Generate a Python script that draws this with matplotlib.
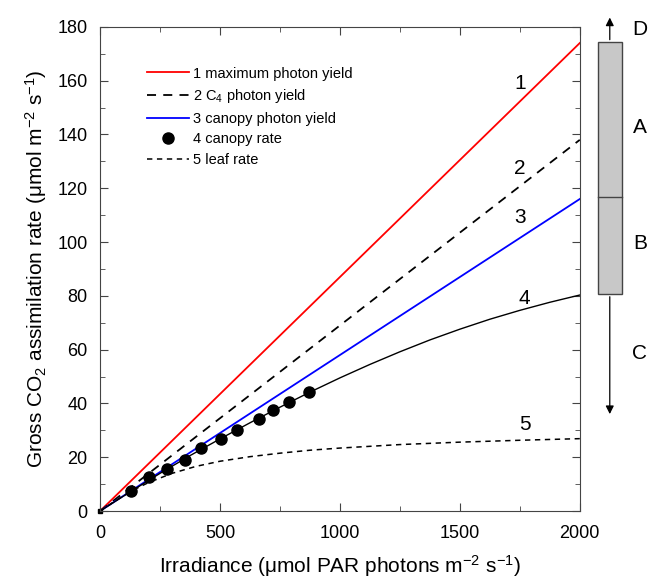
import matplotlib
matplotlib.use("Agg")
import matplotlib.pyplot as plt
from matplotlib.ticker import MultipleLocator
from matplotlib.patches import Rectangle
import matplotlib.transforms as mtransforms

plt.rcParams['font.family'] = ['Liberation Sans', 'DejaVu Sans']
plt.rcParams['mathtext.fontset'] = 'custom'
plt.rcParams['mathtext.rm'] = 'Liberation Sans'
plt.rcParams['mathtext.it'] = 'Liberation Sans:italic'

# straight lines (irradiance end points)
x_line = [0, 2000]
y_max_yield = [0, 174]
y_c4_yield = [0, 138]
y_canopy_yield = [0, 116]

# canopy rate curve
x_curve = [0, 125, 250, 375, 500, 625, 750, 875, 1000, 1125, 1250, 1375, 1500,
           1625, 1750, 1875, 2000]
y_canopy_rate = [0, 7.1, 14.0, 20.6, 26.8, 32.8, 38.6, 44.2, 49.5, 54.5, 59.2, 63.6,
                 67.6, 71.3, 74.6, 77.6, 80.3]

# leaf rate curve
x_leaf = [0, 50, 100, 150, 200, 300, 400, 500, 625, 750, 875, 1000, 1250, 1500, 1750, 2000]
y_leaf = [0, 3.0, 5.8, 8.3, 10.5, 14.0, 16.6, 18.5, 20.2, 21.5, 22.6, 23.4, 24.7, 25.6,
          26.3, 26.9]

# measured canopy points
x_pts = [127, 203, 277, 352, 419, 506, 572, 662, 720, 789, 873]
y_pts = [7.5, 12.5, 15.7, 18.8, 23.3, 26.8, 30.1, 34.3, 37.5, 40.6, 44.1]

# side box (values at 2000)
box_low, box_med, box_high = 80.7, 116.8, 174.2
whisk_low, whisk_high = 35, 184.5
box_labels = ["D", "A", "B", "C"]
box_label_y = [179, 142.4, 99.6, 58.7]

curve_labels = ["1", "2", "3", "4", "5"]
curve_label_x = [1750, 1750, 1750, 1770, 1770]
curve_label_y = [159, 127.5, 109, 79, 32]

fig = plt.figure(figsize=(6.5, 5.84), dpi=100)
ax = fig.add_axes([0.154, 0.125, 0.738, 0.829])

ax.plot(x_line, y_max_yield, color='red', lw=1.3, label='1 maximum photon yield')
ax.plot(x_line, y_c4_yield, color='black', lw=1.3, ls=(0, (5, 4)), label='2 C$_4$ photon yield')
ax.plot(x_line, y_canopy_yield, color='blue', lw=1.3, label='3 canopy photon yield')
ax.plot(x_curve, y_canopy_rate, color='black', lw=1.0)
ax.plot(x_pts, y_pts, 'o', color='black', ms=8, ls='none', label='4 canopy rate')
ax.plot(x_leaf, y_leaf, color='black', lw=1.1, ls=(0, (3.5, 3)), label='5 leaf rate')
ax.plot([0], [0], 's', color='black', ms=3, clip_on=False)

for t, xx, yy in zip(curve_labels, curve_label_x, curve_label_y):
    ax.text(xx, yy, t, fontsize=15, ha='center', va='center')

ax.set_xlim(0, 2000)
ax.set_ylim(0, 180)
ax.xaxis.set_major_locator(MultipleLocator(500))
ax.xaxis.set_minor_locator(MultipleLocator(250))
ax.yaxis.set_major_locator(MultipleLocator(20))
ax.yaxis.set_minor_locator(MultipleLocator(10))
ax.tick_params(which='both', direction='in', top=True, right=True, labelsize=13, color='#444444')
ax.tick_params(which='major', length=6)
ax.tick_params(which='minor', length=3.5)
ax.tick_params(axis='x', pad=10)
ax.tick_params(axis='y', pad=9)
for s in ax.spines.values():
    s.set_color('#444444')

ax.set_xlabel('Irradiance (μmol PAR photons m$^{-2}$ s$^{-1}$)', fontsize=15, labelpad=8)
ax.set_ylabel('Gross CO$_2$ assimilation rate (μmol m$^{-2}$ s$^{-1}$)', fontsize=15, labelpad=6)

ax.legend(loc='upper left', bbox_to_anchor=(0.085, 0.93), frameon=False, fontsize=10.5,
          handlelength=2.9, handletextpad=0.3, labelspacing=0.45, borderaxespad=0)

# side box drawn outside the axes (x in axes fraction, y in data)
trans = mtransforms.blended_transform_factory(ax.transAxes, ax.transData)
bx0, bx1 = 1.0375, 1.0875
bxc = (bx0 + bx1) / 2
ax.add_patch(Rectangle((bx0, box_low), bx1 - bx0, box_high - box_low, transform=trans,
                       facecolor='#c8c8c8', edgecolor='#444444', lw=1.0, clip_on=False))
ax.plot([bx0, bx1], [box_med, box_med], color='#444444', lw=1.0, transform=trans, clip_on=False)
ax.annotate('', xy=(bxc, whisk_high), xytext=(bxc, box_high), xycoords=trans, textcoords=trans,
            arrowprops=dict(arrowstyle='-|>', color='black', lw=0.9, mutation_scale=12))
ax.annotate('', xy=(bxc, whisk_low), xytext=(bxc, box_low), xycoords=trans, textcoords=trans,
            arrowprops=dict(arrowstyle='-|>', color='black', lw=0.9, mutation_scale=12))
for t, yy in zip(box_labels, box_label_y):
    ax.text(1.125, yy, t, transform=trans, fontsize=15, ha='center', va='center')

fig.savefig('out.png', dpi=100)
